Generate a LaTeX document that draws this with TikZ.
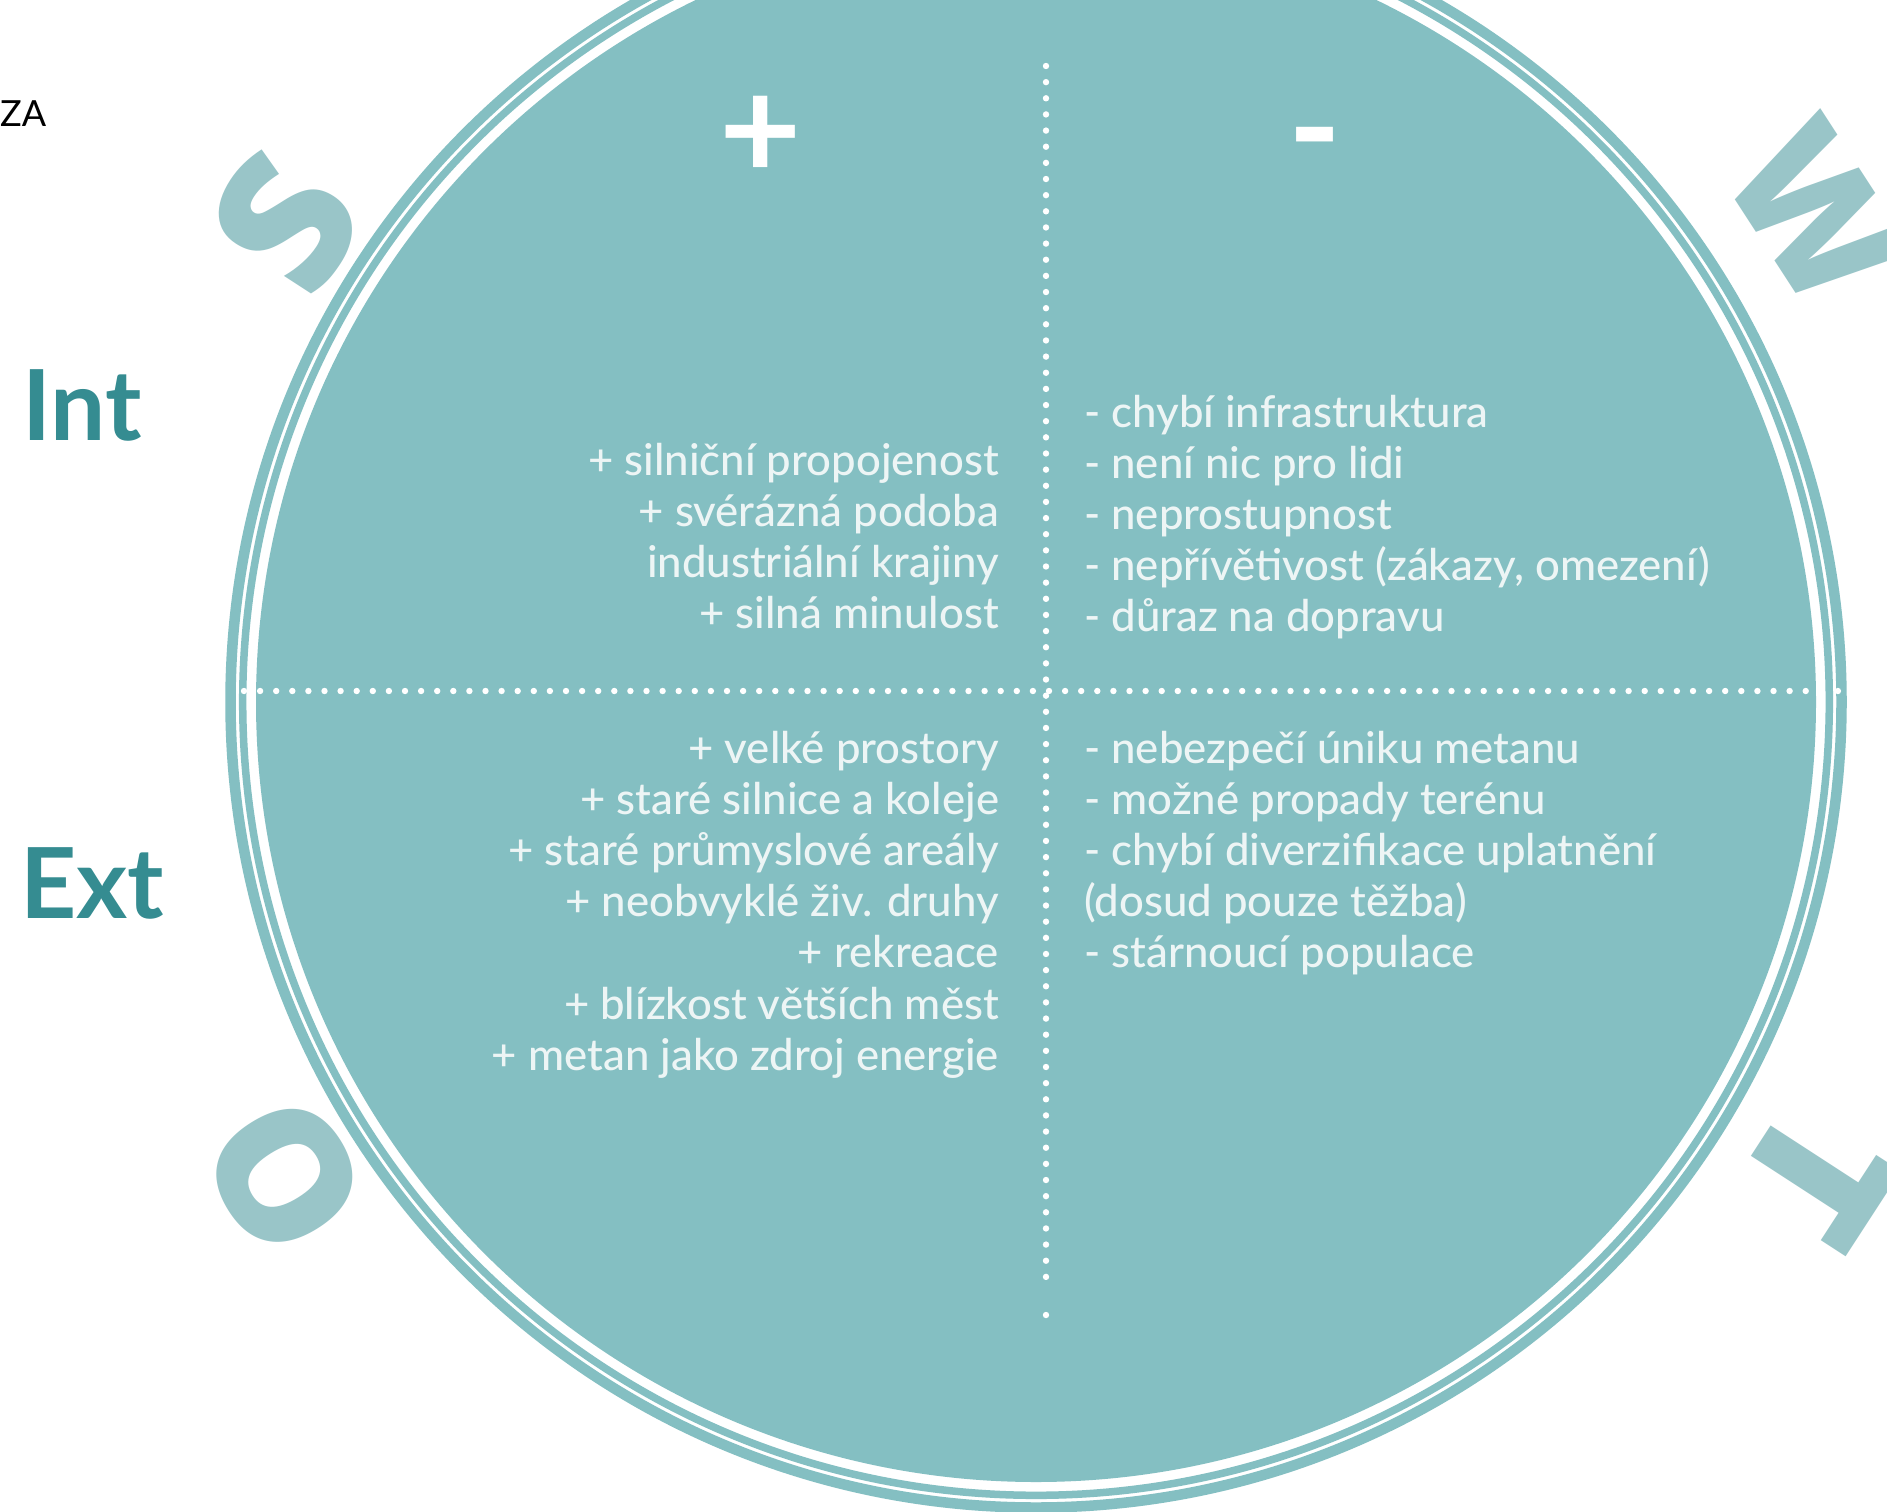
\documentclass[tikz,border=0pt]{standalone}
\usepackage{fontspec}
\setmainfont{Lato}
\IfFontExistsTF{Lato Medium}{\newfontfamily\bodyfont{Lato Medium}}{%
  \IfFontExistsTF{Lato Semibold}{\newfontfamily\bodyfont{Lato Semibold}}{\newfontfamily\bodyfont{Lato}}}
\IfFontExistsTF{Open Sans ExtraBold}{\newfontfamily\swotfont{Open Sans ExtraBold}}{%
  \IfFontExistsTF{Open Sans Extrabold}{\newfontfamily\swotfont{Open Sans Extrabold}}{\newfontfamily\swotfont{Open Sans}[UprightFont=*Bold]}}
\definecolor{cfill}{HTML}{84BFC2}
\definecolor{cletter}{HTML}{99C5C8}
\definecolor{cdark}{HTML}{358C91}
\definecolor{cbody}{HTML}{EDF5F5}
\tikzset{
  body/.style={font=\bodyfont\fontsize{43.7}{50}\selectfont, text=cbody, inner sep=0pt},
  bigletter/.style={font=\swotfont\fontsize{188}{200}\selectfont, text=cletter, inner sep=0pt, anchor=center},
  side/.style={font=\bfseries\fontsize{98}{100}\selectfont, text=cdark, inner sep=0pt, anchor=base west},
  sign/.style={font=\bfseries\fontsize{142}{150}\selectfont, text=white, inner sep=0pt, anchor=center},
  dots/.style={white, line width=6.4pt, line cap=round}
}
\begin{document}
\begin{tikzpicture}[x=1pt,y=-1pt]
\useasboundingbox (0,0) rectangle (1887,1512);
\fill[white] (0,0) rectangle (1887,1512);
% circle and rings
\fill[cfill] (1036,702) circle[radius=780pt];
\draw[cfill, line width=7.5pt] (1036,702) circle[radius=793.3pt];
\draw[cfill, line width=10.5pt] (1036,702) circle[radius=805.5pt];
% dotted cross
\coordinate (hl) at (244,691);
\coordinate (hr) at (1838,691);
\coordinate (vt) at (1046,66);
\coordinate (vb) at (1046,1293);
\coordinate (vend) at (1046,1315);
\draw[dots, dash pattern=on 0pt off 16.1pt] (hl) -- (hr);
\draw[dots, dash pattern=on 0pt off 16.145pt] (vt) -- (vb);
\fill[white] (vend) circle[radius=3.2pt];
% SWOT letters
\node[bigletter, rotate=57] (S) at (286,222) {S};
\node[bigletter, font=\swotfont\fontsize{170}{180}\selectfont, rotate=-57] (W) at (1816,214) {W};
\node[bigletter, font=\swotfont\fontsize{180}{190}\selectfont, rotate=122] (O) at (285,1176) {O};
\node[bigletter, rotate=-123] (T) at (1818,1178) {T};
% headings
\node[font=\fontsize{36}{40}\selectfont, inner sep=0pt, anchor=base west] (za) at (0,126) {ZA};
\node[side] (int) at (22,440) {Int};
\node[side] (ext) at (20,918) {Ext};
\node[sign] (plus) at (761,138) {+};
\node[sign] (minus) at (1315,152) {-};
% strengths
\foreach \t [count=\i] in {{+ silniční propojenost},{+ svérázná podoba},{industriální krajiny},{+ silná minulost}}
  \node[body, anchor=base east] (s\i) at (999,{475+51.2*(\i-1)}) {\t};
% weaknesses
\foreach \t [count=\i] in {{- chybí infrastruktura},{- není nic pro lidi},{- neprostupnost},{- nepřívětivost (zákazy, omezení)},{- důraz na dopravu}}
  \node[body, anchor=base west] (w\i) at (1084,{427+51.2*(\i-1)}) {\t};
% opportunities
\foreach \t [count=\i] in {{+ velké prostory},{+ staré silnice a koleje},{+ staré průmyslové areály},{+ neobvyklé živ. druhy},{+ rekreace},{+ blízkost větších měst},{+ metan jako zdroj energie}}
  \node[body, anchor=base east] (o\i) at (999,{763+51.2*(\i-1)}) {\t};
% threats
\foreach \t [count=\i] in {{- nebezpečí úniku metanu},{- možné propady terénu},{- chybí diverzifikace uplatnění},{(dosud pouze těžba)},{- stárnoucí populace}}
  \node[body, anchor=base west] (t\i) at (1084,{763+51.2*(\i-1)}) {\t};
\end{tikzpicture}
\end{document}
